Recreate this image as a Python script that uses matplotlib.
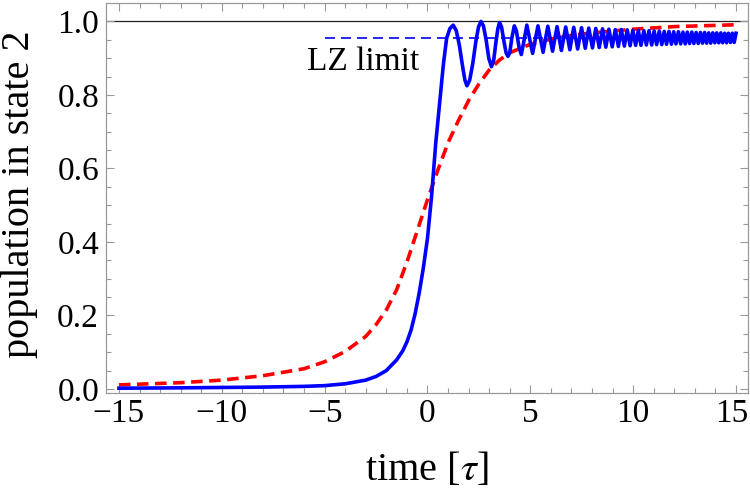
import numpy as np
import matplotlib
matplotlib.use("Agg")
import matplotlib.pyplot as plt
import matplotlib.transforms as mtransforms

plt.rcParams['font.family'] = 'serif'
plt.rcParams['font.serif'] = ['Liberation Serif', 'DejaVu Serif']
plt.rcParams['mathtext.fontset'] = 'stix'

# blue solid: population in state 2, rise and first few oscillations
rise_t = [-15, -12, -10, -8, -6, -5, -4, -3, -2.5, -2, -1.5, -1.2, -1.0, -0.8,
          -0.6, -0.4, -0.2, 0.0, 0.2, 0.4, 0.6, 0.77, 0.93, 1.09, 1.25,
          1.40, 1.55, 1.70, 1.82, 1.92, 2.05, 2.20, 2.35, 2.48, 2.60,
          2.72, 2.85, 2.98, 3.11, 3.22, 3.33, 3.42, 3.50, 3.60, 3.72,
          3.82, 3.91, 4.00, 4.10, 4.22, 4.32, 4.45, 4.56, 4.70, 4.83]
rise_p = [0.002, 0.003, 0.004, 0.005, 0.007, 0.009, 0.014, 0.024, 0.034, 0.050,
          0.079, 0.104, 0.128, 0.160, 0.205, 0.262, 0.330, 0.410, 0.525, 0.668,
          0.785, 0.882, 0.954, 0.981, 0.990,
          0.975, 0.935, 0.880, 0.840, 0.825, 0.840, 0.885, 0.945, 0.985, 1.000,
          0.988, 0.950, 0.900, 0.877, 0.895, 0.945, 0.980, 0.997, 0.985, 0.945,
          0.915, 0.905, 0.915, 0.955, 0.988, 0.975, 0.930, 0.910, 0.950, 0.990]

# later oscillations: alternating trough / peak positions
osc_t = [5.11, 5.37, 5.62, 5.85, 6.08, 6.30, 6.51, 6.72, 6.92, 7.11,
         7.30, 7.49, 7.67, 7.84, 8.02, 8.18, 8.35, 8.51, 8.67, 8.82,
         8.98, 9.13, 9.28, 9.42, 9.57, 9.71, 9.85, 9.98, 10.12, 10.25,
         10.38, 10.52, 10.64, 10.77, 10.90, 11.02, 11.14, 11.27, 11.39, 11.51,
         11.62, 11.74, 11.86, 11.97, 12.08, 12.20, 12.31, 12.42, 12.53, 12.63,
         12.74, 12.85, 12.95, 13.06, 13.16, 13.27, 13.37, 13.47, 13.57, 13.67,
         13.77, 13.87, 13.97, 14.06, 14.16, 14.26, 14.35, 14.45, 14.54, 14.63,
         14.73, 14.82, 14.91, 15.0]
osc_p = [0.913, 0.988, 0.916, 0.987, 0.919, 0.986, 0.921, 0.985, 0.923, 0.984,
         0.925, 0.983, 0.927, 0.982, 0.928, 0.981, 0.929, 0.980, 0.930, 0.979,
         0.931, 0.978, 0.932, 0.978, 0.933, 0.977, 0.934, 0.976, 0.935, 0.976,
         0.935, 0.975, 0.936, 0.975, 0.936, 0.974, 0.937, 0.974, 0.937, 0.973,
         0.938, 0.973, 0.938, 0.972, 0.939, 0.972, 0.939, 0.971, 0.939, 0.971,
         0.940, 0.971, 0.940, 0.970, 0.940, 0.970, 0.941, 0.970, 0.941, 0.969,
         0.941, 0.969, 0.942, 0.969, 0.942, 0.969, 0.942, 0.968, 0.942, 0.968,
         0.943, 0.968, 0.943, 0.968]

# red dashed curve
red_t = [-15, -12, -10, -8, -6, -5, -4, -3, -2.5, -2, -1.5, -1, -0.5, 0,
         0.5, 1, 1.5, 2, 2.5, 3, 3.5, 4, 5, 6, 7, 8, 10, 12, 15]
red_p = [0.011, 0.017, 0.024, 0.036, 0.055, 0.074, 0.102, 0.143, 0.175, 0.215,
         0.270, 0.345, 0.430, 0.515, 0.595, 0.670, 0.730, 0.785, 0.830, 0.868,
         0.895, 0.915, 0.938, 0.952, 0.962, 0.969, 0.979, 0.986, 0.991]

lz_limit = 0.956
lz_t = [-5, 15]

blue_t = rise_t + osc_t
blue_p = rise_p + osc_p

fig = plt.figure(figsize=(7.5, 4.96), dpi=100)
ax = fig.add_axes([0.1413, 0.2077, 0.856, 0.7863])

ax.axhline(1.0, color='#222222', lw=0.9, zorder=1)
ax.plot(lz_t, [lz_limit, lz_limit], color='#0000ff', lw=1.2,
        dashes=(6, 3.6), zorder=2)
ax.plot(red_t, red_p, color='#ff0000', lw=2.6, dashes=(3.2, 1.8), zorder=3)
ax.plot(blue_t, blue_p, color='#0000ff', lw=2.6, zorder=4)

ax.text(-5.86, 0.868, 'LZ limit', fontsize=24, ha='left', va='baseline')

ax.set_xlim(-15.63, 15.58)
ax.set_ylim(-0.011, 1.0503)
ax.set_xticks([-15, -10, -5, 0, 5, 10, 15])
ax.set_xticks(np.arange(-15, 16, 1), minor=True)
ax.set_yticks([0.0, 0.2, 0.4, 0.6, 0.8, 1.0])
ax.set_yticks(np.arange(0, 1.05, 0.05), minor=True)
ax.set_yticklabels(['0.0', '0.2', '0.4', '0.6', '0.8', '1.0'])

for s in ax.spines.values():
    s.set_color('#999999')
    s.set_linewidth(0.9)
ax.tick_params(which='both', direction='in', top=True, right=True,
               color='#999999', width=0.8)
ax.tick_params(which='major', length=6, labelsize=24)
ax.tick_params(which='minor', length=3.5)
ax.tick_params(axis='x', pad=4)
ax.tick_params(axis='y', pad=5)

# last x label sits at the figure edge, nudge it in a little
last = ax.get_xticklabels()[-1]
last.set_transform(last.get_transform() +
                   mtransforms.ScaledTranslation(-3 / 72, 0, fig.dpi_scale_trans))

ax.set_xlabel(r'time [$\tau$]', fontsize=29)
ax.xaxis.set_label_coords(0.5, -0.15)
ax.set_ylabel('population in state 2', fontsize=29, va='center')
ax.yaxis.set_label_coords(-0.134, 0.51)

fig.savefig('out.png', dpi=100)
